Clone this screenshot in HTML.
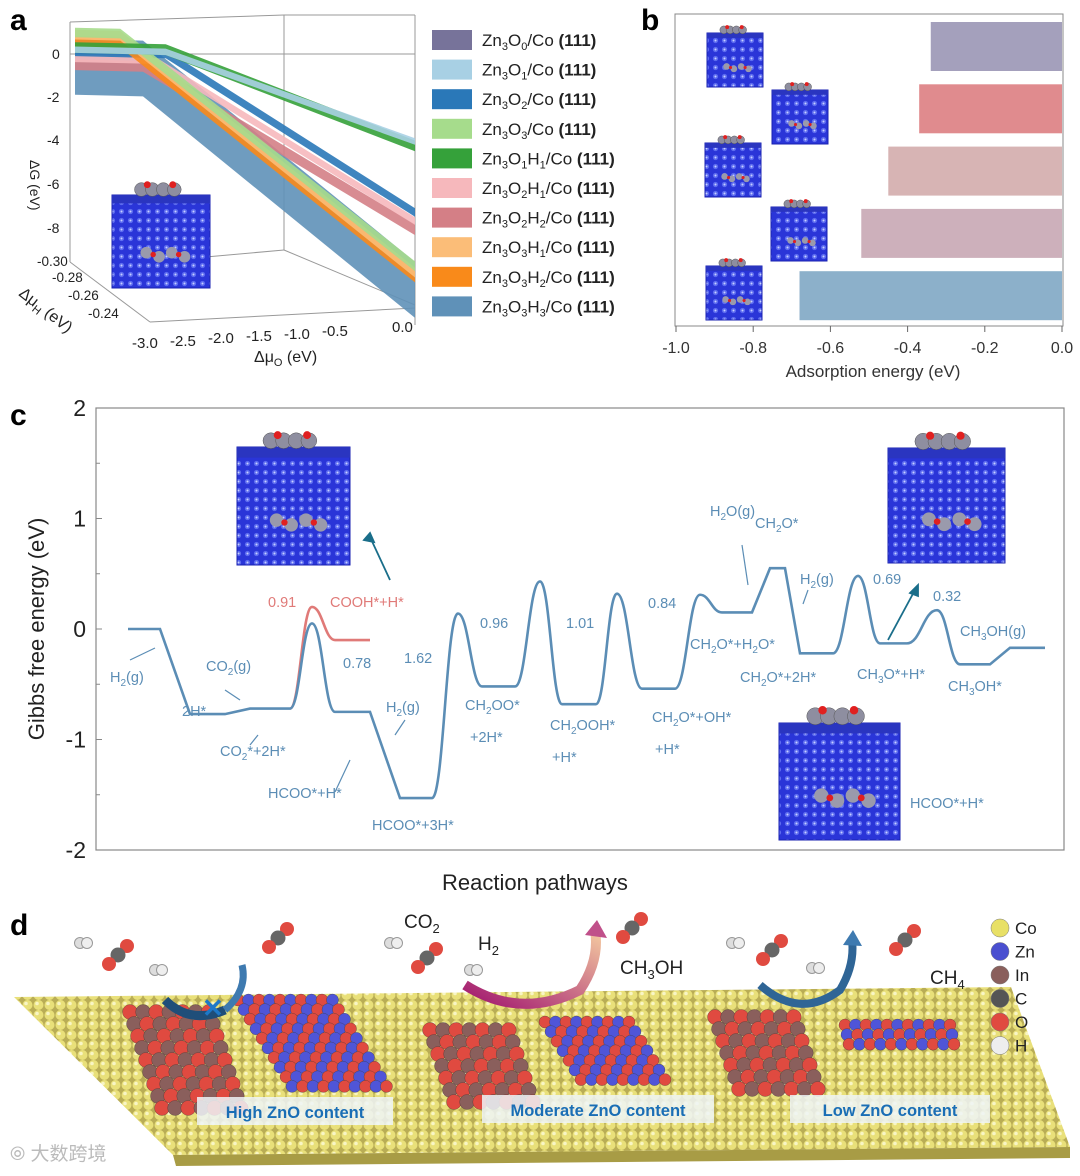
<!DOCTYPE html>
<html><head><meta charset="utf-8">
<style>
html,body{margin:0;padding:0;background:#fff;}
body{width:1080px;height:1171px;overflow:hidden;font-family:"Liberation Sans",Arial,sans-serif;}
svg text{font-family:"Liberation Sans",Arial,sans-serif;}
</style></head>
<body>
<svg id="fig" width="1080" height="1171" viewBox="0 0 1080 1171" xmlns="http://www.w3.org/2000/svg">
<defs>
<pattern id="dots" x="0" y="0" width="9" height="9" patternUnits="userSpaceOnUse">
<rect width="9" height="9" fill="#2a35d8"/><circle cx="4.5" cy="4.5" r="2.6" fill="#5d6cf0"/><circle cx="4.5" cy="4.5" r="1" fill="#c8d0ff"/>
</pattern>
<pattern id="codots" x="0" y="0" width="11" height="10" patternUnits="userSpaceOnUse">
<rect width="11" height="10" fill="#b9ad55"/><circle cx="5.5" cy="5" r="5" fill="#e9e07a"/><circle cx="4" cy="3.5" r="1.8" fill="#f8f5c4"/>
</pattern>
<linearGradient id="magenta" x1="0" y1="1" x2="1" y2="0"><stop offset="0" stop-color="#a0146e"/><stop offset="1" stop-color="#f4c9a0"/></linearGradient>
</defs>

<text x="10" y="30" font-size="30" font-weight="bold">a</text>
<text x="641" y="30" font-size="30" font-weight="bold">b</text>
<text x="10" y="425" font-size="30" font-weight="bold">c</text>
<text x="10" y="935" font-size="30" font-weight="bold">d</text>

<g id="panelA">
<g stroke="#999" stroke-width="1" fill="none">
<line x1="70" y1="22" x2="70" y2="262"/><line x1="70" y1="22" x2="284" y2="15"/><line x1="284" y1="15" x2="415" y2="15"/>
<line x1="284" y1="15" x2="284" y2="250"/><line x1="415" y1="15" x2="415" y2="325"/>
<line x1="70" y1="262" x2="150" y2="322"/><line x1="150" y1="322" x2="415" y2="308"/><line x1="284" y1="250" x2="415" y2="305"/>
<line x1="70" y1="54" x2="415" y2="54"/><line x1="284" y1="250" x2="150" y2="262"/>
</g>
<g id="aSurf"></g>
<g font-size="14" fill="#222">
<text x="52" y="59">0</text><text x="47" y="102">-2</text><text x="47" y="145">-4</text><text x="47" y="189">-6</text><text x="47" y="233">-8</text>
</g>
<text transform="translate(30,160) rotate(90)" font-size="14" fill="#222">ΔG (eV)</text>
<g font-size="13.5" fill="#222">
<text x="37" y="266">-0.30</text><text x="52" y="282">-0.28</text><text x="68" y="300">-0.26</text><text x="88" y="318">-0.24</text>
</g>
<text transform="translate(18,295) rotate(38)" font-size="16" fill="#222">Δμ<tspan font-size="11" dy="4">H</tspan><tspan dy="-4"> (eV)</tspan></text>
<g font-size="15" fill="#222">
<text x="132" y="348">-3.0</text><text x="170" y="346">-2.5</text><text x="208" y="343">-2.0</text><text x="246" y="341">-1.5</text><text x="284" y="339">-1.0</text><text x="322" y="336">-0.5</text><text x="392" y="332">0.0</text>
</g>
<text x="254" y="362" font-size="16" fill="#222">Δμ<tspan font-size="11" dy="4">O</tspan><tspan dy="-4"> (eV)</tspan></text>
<g id="aLegend"></g>
</g>

<g id="panelB">
<rect x="675" y="14" width="388" height="312" fill="none" stroke="#888"/>
<g id="bBars"></g>
<g id="bTicks"></g>
<text x="873" y="377" font-size="17" text-anchor="middle" fill="#333">Adsorption energy (eV)</text>
</g>

<g id="panelC">
<rect x="96" y="408" width="968" height="442" fill="none" stroke="#888" stroke-width="1.2"/>
<g id="cTicks"></g>
<text transform="translate(44,629) rotate(-90)" font-size="22" text-anchor="middle" fill="#222">Gibbs free energy (eV)</text>
<text x="535" y="890" font-size="22" text-anchor="middle" fill="#222">Reaction pathways</text>
<g id="cInsets"></g>
<g id="cPath"></g>
<g font-size="14.5" fill="#5b8db5">
<text x="110" y="682">H<tspan font-size="10" dy="4">2</tspan><tspan dy="-4">(g)</tspan></text>
<text x="206" y="671">CO<tspan font-size="10" dy="4">2</tspan><tspan dy="-4">(g)</tspan></text>
<text x="182" y="716">2H*</text>
<text x="220" y="756">CO<tspan font-size="10" dy="4">2</tspan><tspan dy="-4">*+2H*</tspan></text>
<text x="268" y="798">HCOO*+H*</text>
<text x="386" y="712">H<tspan font-size="10" dy="4">2</tspan><tspan dy="-4">(g)</tspan></text>
<text x="372" y="830">HCOO*+3H*</text>
<text x="465" y="710">CH<tspan font-size="10" dy="4">2</tspan><tspan dy="-4">OO*</tspan></text>
<text x="470" y="742">+2H*</text>
<text x="550" y="730">CH<tspan font-size="10" dy="4">2</tspan><tspan dy="-4">OOH*</tspan></text>
<text x="552" y="762">+H*</text>
<text x="652" y="722">CH<tspan font-size="10" dy="4">2</tspan><tspan dy="-4">O*+OH*</tspan></text>
<text x="655" y="754">+H*</text>
<text x="710" y="516">H<tspan font-size="10" dy="4">2</tspan><tspan dy="-4">O(g)</tspan></text>
<text x="755" y="528">CH<tspan font-size="10" dy="4">2</tspan><tspan dy="-4">O*</tspan></text>
<text x="800" y="584">H<tspan font-size="10" dy="4">2</tspan><tspan dy="-4">(g)</tspan></text>
<text x="690" y="649">CH<tspan font-size="10" dy="4">2</tspan><tspan dy="-4">O*+H</tspan><tspan font-size="10" dy="4">2</tspan><tspan dy="-4">O*</tspan></text>
<text x="740" y="682">CH<tspan font-size="10" dy="4">2</tspan><tspan dy="-4">O*+2H*</tspan></text>
<text x="857" y="679">CH<tspan font-size="10" dy="4">3</tspan><tspan dy="-4">O*+H*</tspan></text>
<text x="948" y="691">CH<tspan font-size="10" dy="4">3</tspan><tspan dy="-4">OH*</tspan></text>
<text x="960" y="636">CH<tspan font-size="10" dy="4">3</tspan><tspan dy="-4">OH(g)</tspan></text>
<text x="910" y="808">HCOO*+H*</text>
<text x="343" y="668">0.78</text><text x="404" y="663">1.62</text><text x="480" y="628">0.96</text>
<text x="566" y="628">1.01</text><text x="648" y="608">0.84</text><text x="873" y="584">0.69</text><text x="933" y="601">0.32</text>
</g>
<g font-size="14.5" fill="#e07a78">
<text x="268" y="607">0.91</text><text x="330" y="607">COOH*+H*</text>
</g>
<g stroke="#5b8db5" stroke-width="1.2" fill="none">
<line x1="130" y1="660" x2="155" y2="648"/><line x1="225" y1="690" x2="240" y2="700"/><line x1="258" y1="735" x2="250" y2="745"/>
<line x1="350" y1="760" x2="335" y2="792"/><line x1="405" y1="720" x2="395" y2="735"/><line x1="748" y1="585" x2="742" y2="545"/><line x1="808" y1="590" x2="803" y2="604"/>
</g>
<g stroke="#1a6e8a" stroke-width="1.8" fill="none">
<line x1="390" y1="580" x2="370" y2="537"/><path d="M364,540 L370,533 L374,542Z" fill="#1a6e8a"/>
<line x1="888" y1="640" x2="915" y2="590"/><path d="M910,593 L918,585 L918,596Z" fill="#1a6e8a"/>
</g>
</g>

<g id="panelD">
<polygon points="14,997 1011,987 1070,1147 173,1155" fill="url(#codots)"/>
<polygon points="173,1155 1070,1147 1070,1158 176,1166" fill="#a89c45"/>
<g id="dClusters"></g>
<path d="M165,1000 Q190,1025 225,1010" stroke="#1f4e79" stroke-width="9" fill="none"/>
<path d="M225,1010 Q248,990 242,965" stroke="#3e7ab0" stroke-width="7" fill="none"/>
<text x="202" y="1017" font-size="26" font-weight="bold" fill="#1d78c8">✕</text>
<path d="M465,985 Q520,1020 580,990 Q600,960 595,930" stroke="url(#magenta)" stroke-width="10" fill="none"/>
<path d="M585,935 L597,920 L607,938Z" fill="#c0508a"/>
<path d="M760,985 Q800,1020 840,990 Q855,965 852,940" stroke="#2f6596" stroke-width="8" fill="none"/>
<path d="M843,945 L853,930 L862,946Z" fill="#3e7ab0"/>
<g id="dMolecules"></g>
<g font-size="19" fill="#222">
<text x="404" y="928">CO<tspan font-size="13" dy="5">2</tspan></text>
<text x="478" y="950">H<tspan font-size="13" dy="5">2</tspan></text>
<text x="620" y="974">CH<tspan font-size="13" dy="5">3</tspan><tspan dy="-5">OH</tspan></text>
<text x="930" y="984">CH<tspan font-size="13" dy="5">4</tspan></text>
</g>
<g font-size="16.5" font-weight="bold" fill="#1a6eb5">
<rect x="197" y="1097" width="196" height="28" fill="#eef4f8" opacity="0.85"/>
<text x="295" y="1118" text-anchor="middle">High ZnO content</text>
<rect x="482" y="1095" width="232" height="28" fill="#eef4f8" opacity="0.85"/>
<text x="598" y="1116" text-anchor="middle">Moderate ZnO content</text>
<rect x="790" y="1095" width="200" height="28" fill="#eef4f8" opacity="0.85"/>
<text x="890" y="1116" text-anchor="middle">Low ZnO content</text>
</g>
<g id="dLegend"></g>
<text x="10" y="1160" font-size="19" fill="#bbb" font-family="'Liberation Sans','Noto Sans CJK SC',sans-serif">⦾ 大数跨境</text>
</g>
</svg>

<script>
const NS='http://www.w3.org/2000/svg';
function mk(tag,attrs,parent){const e=document.createElementNS(NS,tag);for(const k in attrs)e.setAttribute(k,attrs[k]);if(parent)parent.appendChild(e);return e;}

function inset(parent,x,y,w,h,name){
  const g=mk('g',{},parent);
  
  
  mk('rect',{x:x,y:y,width:w,height:h,fill:'url(#dots)',stroke:'#1a22b0'},g);
  mk('rect',{x:x,y:y,width:w,height:h*0.09,fill:'#2a35c0'},g);
  const n=4,r=Math.min(w*0.07,9);
  for(let i=0;i<n;i++){mk('circle',{cx:x+w*0.3+i*r*1.6,cy:y-r*0.8,r:r,fill:'#8e8ea0',stroke:'#555',"stroke-width":0.5},g);}
  mk('circle',{cx:x+w*0.36,cy:y-r*1.5,r:r*0.5,fill:'#e02020'},g);
  mk('circle',{cx:x+w*0.62,cy:y-r*1.5,r:r*0.5,fill:'#e02020'},g);
  for(let i=0;i<4;i++){mk('circle',{cx:x+w*(0.35+i*0.13),cy:y+h*0.62+(i%2)*r*0.6,r:r*0.85,fill:'#9a9aac'},g);}
  mk('circle',{cx:x+w*0.42,cy:y+h*0.64,r:r*0.4,fill:'#e02020'},g);
  mk('circle',{cx:x+w*0.68,cy:y+h*0.64,r:r*0.4,fill:'#e02020'},g);
}

/* Panel a */
const aSeries=['Zn₃O₀','Zn₃O₁','Zn₃O₂','Zn₃O₃','Zn₃O₁H₁','Zn₃O₂H₁','Zn₃O₂H₂','Zn₃O₃H₁','Zn₃O₃H₂','Zn₃O₃H₃'];
const aSub=[['0'],['1'],['2'],['3'],['1','1'],['2','1'],['2','2'],['3','1'],['3','2'],['3','3']];
const aColors=['#77739a','#a8d0e4','#2a78b8','#a6dc8c','#35a13a','#f6b8bc','#d47f86','#fbbd78','#f98a1a','#5f91b8'];
const aStartG=[0.0,0.2,0.1,1.0,0.3,-0.2,-0.5,0.9,0.6,-0.6];
const aEndG=[0.0,-3.7,-7.0,-9.5,-3.9,-7.4,-7.8,-9.8,-10.0,-10.6];
const aThick=[0.15,0.3,0.4,0.45,0.5,0.35,0.5,0.45,0.5,2.6];
const aKink=[-2.5,-2.2,-2.2,-2.6,-2.2,-2.3,-2.4,-2.6,-2.6,-2.4];
function aX(mu){return 75+(mu+3)/3*340;}
function aY(g,mu){return 54-g*21.5+(mu+3)/3*8;}
(function(){
  const surf=document.getElementById('aSurf');
  const order=[9,6,5,2,8,7,3,4,1,0];
  order.forEach(i=>{
    if(i===0) return;
    const k=aKink[i];
    const flatG=aStartG[i];
    const t=aThick[i];
    const pts=[[-3,flatG+t*0.5],[k,flatG+t*0.5],[0,aEndG[i]+t*0.5],[0,aEndG[i]-t*0.5],[k,flatG-t*0.5],[-3,flatG-t*0.5]];
    const p=mk('polygon',{points:pts.map(q=>aX(q[0]).toFixed(1)+','+aY(q[1],q[0]).toFixed(1)).join(' '),fill:aColors[i],opacity:0.9},surf);
    
    
  });
  inset(surf,112,195,98,93,'structure-inset-a');
  const lg=document.getElementById('aLegend');
  aSeries.forEach((s,i)=>{
    const y=30+i*29.6;
    const r=mk('rect',{x:432,y:y,width:40,height:20,fill:aColors[i]},lg);
    
    
    const t=mk('text',{x:482,y:y+16,"font-size":17,fill:'#222'},lg);
    
    
    const sub=aSub[i];
    let html='Zn<tspan font-size="11" dy="4">3</tspan><tspan dy="-4">O</tspan><tspan font-size="11" dy="4">'+sub[0]+'</tspan>';
    if(sub.length>1) html+='<tspan dy="-4">H</tspan><tspan font-size="11" dy="4">'+sub[1]+'</tspan>';
    html+='<tspan dy="-4">/Co </tspan><tspan font-weight="bold">(111)</tspan>';
    t.innerHTML=html;
  });
})();

/* Panel b */
const bValues=[-0.34,-0.37,-0.45,-0.52,-0.68];
const bColors=['#a4a0bc','#e08b8e','#d7b4b4','#cdb0bb','#8cb0ca'];
const bTickVals=[-1.0,-0.8,-0.6,-0.4,-0.2,0.0];
const bTickLabels=['-1.0','-0.8','-0.6','-0.4','-0.2','0.0'];
function bX(v){return 1062+v*386;}
function bY(i){return 22+i*62.3;}
(function(){
  const g=document.getElementById('bBars');
  bValues.forEach((v,i)=>{
    const r=mk('rect',{x:bX(v),y:bY(i),width:bX(0)-bX(v),height:49,fill:bColors[i]},g);
    
    
  });
  const ins=[[707,33],[772,90],[705,143],[771,207],[706,266]];
  ins.forEach((p,i)=>inset(g,p[0],p[1],56,54,'structure-inset-b'+(i+1)));
  const t=document.getElementById('bTicks');
  bTickVals.forEach((v,i)=>{
    mk('line',{x1:bX(v),y1:326,x2:bX(v),y2:332,stroke:'#666'},t);
    const tx=mk('text',{x:bX(v),y:353,"font-size":16,"text-anchor":"middle",fill:'#333'},t);
    tx.textContent=bTickLabels[i];
    
    
  });
})();

/* Panel c */
const cCoord=[0,3.2,6.2,9.7,12.2,16.2,18.4,20.7,24.2,27.2,30.4,33,35.4,38.7,41.2,43.4,46.8,48.9,51.4,54.7,57.2,59.4,62.4,64.2,65.7,67.2,70.5,73,75.2,77.9,80.9,83.2,86.2,88.2,91.7];
const cEnergy=[0,0,-0.77,-0.77,-0.72,-0.72,0.05,-0.75,-0.75,-1.53,-1.53,0.14,-0.52,-0.52,0.43,-0.68,-0.68,0.32,-0.54,-0.54,0.31,0.15,0.15,0.55,0.55,-0.22,-0.22,0.48,-0.13,-0.13,0.17,-0.32,-0.32,-0.17,-0.17];
const cPeak=[0,0,0,0,0,0,1,0,0,0,0,1,0,0,1,0,0,1,0,0,1,0,0,0,0,0,0,1,0,0,1,0,0,0,0];
const redCoord=[16.2,18.4,20.7,24.2];
const redEnergy=[-0.72,0.2,-0.1,-0.1];
const redPeak=[0,1,0,0];
const cTickVals=[2,1,0,-1,-2];
function cX(r){return 128+r*10;}
function cY(e){return 629-e*110.5;}
function buildPath(xs,es,pk){
  let d='M'+cX(xs[0])+','+cY(es[0]);
  for(let i=1;i<xs.length;i++){
    const x0=cX(xs[i-1]),y0=cY(es[i-1]),x1=cX(xs[i]),y1=cY(es[i]);
    if(pk[i]||pk[i-1]){
      const dx=x1-x0;
      d+=' C'+(x0+dx*0.45)+','+y0+' '+(x1-dx*0.45)+','+y1+' '+x1+','+y1;
    } else d+=' L'+x1+','+y1;
  }
  return d;
}
(function(){
  const t=document.getElementById('cTicks');
  cTickVals.forEach(v=>{
    mk('line',{x1:96,y1:cY(v),x2:102,y2:cY(v),stroke:'#888'},t);
    if(v>-2) mk('line',{x1:96,y1:cY(v-0.5),x2:100,y2:cY(v-0.5),stroke:'#888'},t);
    const tx=mk('text',{x:86,y:cY(v)+8,"font-size":23,"text-anchor":"end",fill:'#222'},t);
    tx.textContent=String(v);
    
    
  });
  const ins=document.getElementById('cInsets');
  inset(ins,237,447,113,118,'structure-inset-cooh');
  inset(ins,888,448,117,115,'structure-inset-ch3o');
  inset(ins,779,723,121,117,'structure-inset-hcoo');
  const g=document.getElementById('cPath');
  const red=mk('path',{d:buildPath(redCoord,redEnergy,redPeak),stroke:'#e07a78',"stroke-width":2.6,fill:'none'},g);
  
  
  const main=mk('path',{d:buildPath(cCoord,cEnergy,cPeak),stroke:'#5b8db5',"stroke-width":2.6,fill:'none'},g);
  
  
})();

/* Panel d */
(function(){
  const g=document.getElementById('dClusters');
  function cluster(x0,y0,cols,rows,skew,colA,colB,r,name){
    const cg=mk('g',{},g);
    
    
    for(let j=0;j<rows;j++)for(let i=0;i<cols;i++){
      const cx=x0+i*r*1.75+j*skew, cy=y0+j*r*1.6;
      mk('circle',{cx:cx,cy:cy,r:r,fill:((i+j)%2?colA:colB),stroke:'#333',"stroke-width":0.3},cg);
    }
  }
  cluster(130,1012,7,9,4,'#8a5f5c','#e04a40',7.5,'in2o3-cluster-high');
  cluster(238,1000,10,10,6,'#4f55d8','#e04a40',6,'zno-cluster-high');
  cluster(430,1030,7,7,4,'#8a5f5c','#e04a40',7.5,'in2o3-cluster-moderate');
  cluster(545,1022,9,7,6,'#4f55d8','#e04a40',6,'zno-cluster-moderate');
  cluster(715,1017,7,7,4,'#8a5f5c','#e04a40',7.5,'in2o3-cluster-low');
  cluster(845,1025,11,3,2,'#4f55d8','#e04a40',6,'zno-cluster-low');
  const m=document.getElementById('dMolecules');
  function mol(cx,cy,name){
    const mg=mk('g',{},m);
    
    
    mk('circle',{cx:cx+9,cy:cy-9,r:7,fill:'#e04a40'},mg);
    mk('circle',{cx:cx,cy:cy,r:7.5,fill:'#666'},mg);
    mk('circle',{cx:cx-9,cy:cy+9,r:7,fill:'#e04a40'},mg);
  }
  function h2(cx,cy){mk('circle',{cx:cx,cy:cy,r:5.5,fill:'#ddd',stroke:'#999'},m);mk('circle',{cx:cx+7,cy:cy,r:5.5,fill:'#eee',stroke:'#999'},m);}
  mol(118,955,'co2-high');h2(80,943);h2(155,970);mol(278,938,'ch3oh-high');
  mol(427,958,'co2-moderate');h2(390,943);h2(470,970);mol(632,928,'ch3oh-moderate');
  mol(772,950,'co2-low');h2(732,943);h2(812,968);mol(905,940,'ch4-low');
  const lg=document.getElementById('dLegend');
  const atoms=['Co','Zn','In','C','O','H'];
  const atomCols=['#e8e066','#4a4fd0','#8a5f5c','#555','#e04a40','#eee'];
  atoms.forEach((a,i)=>{
    const y=928+i*23.5;
    mk('circle',{cx:1000,cy:y,r:9,fill:atomCols[i],stroke:'#777',"stroke-width":0.5},lg);
    const t=mk('text',{x:1015,y:y+6,"font-size":17,fill:'#222',"font-family":"Liberation Serif,serif"},lg);
    t.textContent=a;
    
    
  });
})();
</script>
</body></html>
